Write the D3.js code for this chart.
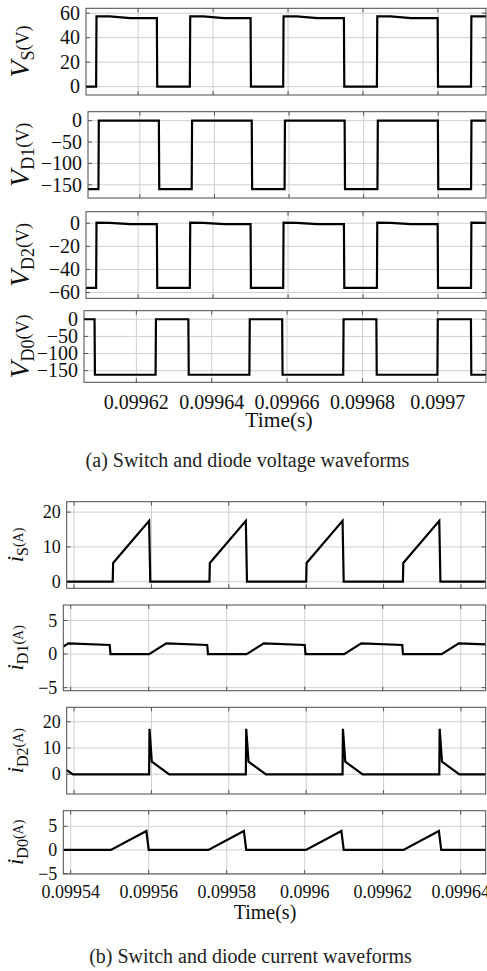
<!DOCTYPE html>
<html>
<head>
<meta charset="utf-8">
<script src="https://cdn.jsdelivr.net/npm/d3@7"></script>
<style>
body { margin: 0; background: #fff; }
svg { display: block; font-family: "Liberation Serif", "Times New Roman", serif; }
</style>
</head>
<body>
<script>
// ---- (a) switch and diode voltages, time in s ----
var timeA = [0.0996061, 0.0997128];
var ticksA = [0.09962, 0.09964, 0.09966, 0.09968, 0.0997];
var tickLabelsA = ["0.09962", "0.09964", "0.09966", "0.09968", "0.0997"];

var vS = [[0.0996061,0],[0.0996088,0],[0.0996089,57.5],[0.0996124,57.4],[0.0996179,56],[0.0996250,56],[0.0996251,0],
	[0.0996338,0],[0.0996339,57.5],[0.0996374,57.4],[0.0996429,56],[0.0996500,56],[0.0996501,0],
	[0.0996587,0],[0.0996588,57.5],[0.0996623,57.4],[0.0996678,56],[0.0996749,56],[0.0996750,0],
	[0.0996837,0],[0.0996838,57.5],[0.0996873,57.4],[0.0996928,56],[0.0996999,56],[0.0997000,0],
	[0.0997088,0],[0.0997089,57.5],[0.0997128,57.4]];
var vD1 = [[0.0996061,-160],[0.0996089,-160],[0.0996090,0],[0.0996251,0],[0.0996252,-160],
	[0.0996339,-160],[0.0996340,0],[0.0996500,0],[0.0996501,-160],
	[0.0996588,-160],[0.0996589,0],[0.0996749,0],[0.0996750,-160],
	[0.0996837,-160],[0.0996838,0],[0.0996999,0],[0.0997000,-160],
	[0.0997088,-160],[0.0997089,0],[0.0997128,0]];
var vD2 = [[0.0996061,-56],[0.0996088,-56],[0.0996089,0.5],[0.0996124,0.4],[0.0996179,-0.8],[0.0996250,-0.8],[0.0996251,-56],
	[0.0996338,-56],[0.0996339,0.5],[0.0996374,0.4],[0.0996429,-0.8],[0.0996500,-0.8],[0.0996501,-56],
	[0.0996587,-56],[0.0996588,0.5],[0.0996623,0.4],[0.0996678,-0.8],[0.0996749,-0.8],[0.0996750,-56],
	[0.0996837,-56],[0.0996838,0.5],[0.0996873,0.4],[0.0996928,-0.8],[0.0996999,-0.8],[0.0997000,-56],
	[0.0997088,-56],[0.0997089,0.5],[0.0997128,0.4]];
var vD0 = [[0.0996061,0],[0.0996089,0],[0.0996090,-162],[0.0996251,-162],[0.0996252,0],
	[0.0996338,0],[0.0996339,-162],[0.0996500,-162],[0.0996501,0],
	[0.0996587,0],[0.0996588,-162],[0.0996749,-162],[0.0996750,0],
	[0.0996837,0],[0.0996838,-162],[0.0996999,-162],[0.0997000,0],
	[0.0997088,0],[0.0997089,-162],[0.0997128,-162]];

var yDomainsA = [[-6.8, 64], [-181, 21], [-65, 10], [-184, 25]];
var yTicksA = [[0, 20, 40, 60], [-150, -100, -50, 0], [-60, -40, -20, 0], [-150, -100, -50, 0]];

// ---- (b) switch and diode currents ----
var timeB = [0.0995381, 0.0996464];
var ticksB = [0.09954, 0.09956, 0.09958, 0.0996, 0.09962, 0.09964];
var tickLabelsB = ["0.09954", "0.09956", "0.09958", "0.0996", "0.09962", "0.09964"];

var iS = [[0.0995381,0],[0.0995500,0],[0.0995501,5.4],[0.0995594,17.5],[0.0995597,0],
	[0.0995750,0],[0.0995751,5.4],[0.0995844,17.5],[0.0995847,0],
	[0.0996000,0],[0.0996001,5.4],[0.0996094,17.5],[0.0996097,0],
	[0.0996250,0],[0.0996251,5.4],[0.0996344,17.5],[0.0996347,0],
	[0.0996464,0]];
var iD1 = [[0.0995381,1.1],[0.0995394,1.6],[0.0995500,1.35],[0.0995502,0],[0.0995601,0],[0.0995645,1.6],
	[0.0995750,1.35],[0.0995752,0],[0.0995851,0],[0.0995895,1.6],
	[0.0996000,1.35],[0.0996002,0],[0.0996101,0],[0.0996145,1.6],
	[0.0996250,1.35],[0.0996252,0],[0.0996351,0],[0.0996395,1.6],
	[0.0996464,1.45]];
var iD2 = [[0.0995381,1.6],[0.0995397,0],[0.0995594,0],[0.0995595,17.3],[0.0995601,4.8],[0.0995646,0],
	[0.0995844,0],[0.0995845,17.3],[0.0995851,4.8],[0.0995896,0],
	[0.0996094,0],[0.0996095,17.3],[0.0996101,4.8],[0.0996146,0],
	[0.0996344,0],[0.0996345,17.3],[0.0996351,4.8],[0.0996396,0],
	[0.0996464,0]];
var iD0 = [[0.0995381,0],[0.0995503,0],[0.0995594,4.0],[0.0995600,0],
	[0.0995753,0],[0.0995844,4.0],[0.0995850,0],
	[0.0996003,0],[0.0996094,4.0],[0.0996100,0],
	[0.0996253,0],[0.0996344,4.0],[0.0996350,0],
	[0.0996464,0]];

var yDomainsB = [[-1.9, 23], [-5.45, 7.3], [-7.5, 25.5], [-5.1, 8.3]];
var yTicksB = [[0, 10, 20], [-5, 0, 5], [0, 10, 20], [-5, 0, 5]];

// label pieces: main letter, subscript, unit
var labelsA = [["V", "S", "(V)"], ["V", "D1", "(V)"], ["V", "D2", "(V)"], ["V", "D0", "(V)"]];
var labelsB = [["i", "S", "(A)"], ["i", "D1", "(A)"], ["i", "D2", "(A)"], ["i", "D0", "(A)"]];
var captionA = "(a) Switch and diode voltage waveforms";
var captionB = "(b) Switch and diode current waveforms";
var timeLabel = "Time(s)";

// ---- layout ----
var width = 487, height = 971;
var boxesA = [
	{left: 86, top: 8.3, bottom: 95},
	{left: 88, top: 111.7, bottom: 198},
	{left: 86, top: 211.7, bottom: 298.3},
	{left: 84, top: 310.7, bottom: 382.3}
];
var boxesB = [
	{left: 66.7, top: 501.7, bottom: 588.3},
	{left: 63.3, top: 605, bottom: 690.7},
	{left: 66.7, top: 707.3, bottom: 794},
	{left: 63.3, top: 810.7, bottom: 874}
];

var svg = d3.select("body").append("svg")
	.attr("width", width)
	.attr("height", height);

var clipId = 0;

function drawPanel(box, right, xDomain, xTicks, yDomain, yTicks, data, opt) {
	var x = d3.scaleLinear().domain(xDomain).range([box.left, right]),
	y = d3.scaleLinear().domain(yDomain).range([box.bottom, box.top]);
	var g = svg.append("g");
	var id = "clip" + (clipId++);

	g.append("defs").append("clipPath")
	.attr("id", id)
	.append("rect")
	.attr("x", box.left)
	.attr("y", box.top)
	.attr("width", right - box.left)
	.attr("height", box.bottom - box.top);

	// grid
	g.append("g")
	.selectAll("line")
	.data(xTicks)
	.enter().append("line")
	.attr("x1", function (d) { return x(d); })
	.attr("x2", function (d) { return x(d); })
	.attr("y1", box.top)
	.attr("y2", box.bottom)
	.attr("stroke", "#cfcfcf")
	.attr("stroke-width", 1);

	g.append("g")
	.selectAll("line")
	.data(yTicks)
	.enter().append("line")
	.attr("x1", box.left)
	.attr("x2", right)
	.attr("y1", function (d) { return y(d); })
	.attr("y2", function (d) { return y(d); })
	.attr("stroke", "#cfcfcf")
	.attr("stroke-width", 1);

	// inner tick marks on all four sides
	var tk = 4;
	var ticks = g.append("g").attr("stroke", "#555").attr("stroke-width", 1);
	xTicks.forEach(function (d) {
		ticks.append("line").attr("x1", x(d)).attr("x2", x(d)).attr("y1", box.bottom).attr("y2", box.bottom - tk);
		ticks.append("line").attr("x1", x(d)).attr("x2", x(d)).attr("y1", box.top).attr("y2", box.top + tk);
	});
	yTicks.forEach(function (d) {
		ticks.append("line").attr("x1", box.left).attr("x2", box.left + tk).attr("y1", y(d)).attr("y2", y(d));
		ticks.append("line").attr("x1", right).attr("x2", right - tk).attr("y1", y(d)).attr("y2", y(d));
	});

	// waveform
	var line = d3.line()
		.x(function (d) { return x(d[0]); })
		.y(function (d) { return y(d[1]); });

	g.append("path")
	.datum(data)
	.attr("clip-path", "url(#" + id + ")")
	.attr("fill", "none")
	.attr("stroke", "#000")
	.attr("stroke-width", 2.2)
	.attr("d", line);

	// box
	g.append("rect")
	.attr("x", box.left)
	.attr("y", box.top)
	.attr("width", right - box.left)
	.attr("height", box.bottom - box.top)
	.attr("fill", "none")
	.attr("stroke", "#4a4a4a")
	.attr("stroke-width", 1);

	// y tick labels
	g.append("g")
	.selectAll("text")
	.data(yTicks)
	.enter().append("text")
	.attr("x", box.left - 6)
	.attr("y", function (d) { return y(d); })
	.attr("dy", "0.34em")
	.attr("text-anchor", "end")
	.attr("font-size", opt.tickSize)
	.attr("fill", "#111")
	.text(function (d) { return d3.format("")(d); });

	// y label
	var lab = g.append("text")
		.attr("transform", "translate(" + opt.labelX + "," + ((box.top + box.bottom) / 2) + ") rotate(-90)")
		.attr("text-anchor", "middle")
		.attr("fill", "#111");
	lab.append("tspan").attr("font-style", "italic").attr("font-size", opt.mainSize).text(opt.label[0]);
	lab.append("tspan").attr("font-size", opt.subSize).attr("dy", opt.subShift).text(opt.label[1]);
	lab.append("tspan").attr("font-size", opt.unitSize).attr("dy", -opt.subShift).text(opt.label[2]);

	return x;
}

function drawSection(boxes, right, xDomain, xTicks, xLabels, yDomains, yTicks, series, labels, opt) {
	var x;
	for (var i = 0; i < boxes.length; i++) {
		x = drawPanel(boxes[i], right, xDomain, xTicks, yDomains[i], yTicks[i], series[i], {
			tickSize: opt.tickSize,
			labelX: opt.labelX,
			mainSize: opt.mainSize,
			subSize: opt.subSize,
			unitSize: opt.unitSize,
			subShift: opt.subShift,
			label: labels[i]
		});
	}
	svg.append("g")
	.selectAll("text")
	.data(xTicks)
	.enter().append("text")
	.attr("x", function (d) { return x(d); })
	.attr("y", opt.xTickY)
	.attr("text-anchor", "middle")
	.attr("font-size", opt.tickSize)
	.attr("fill", "#111")
	.text(function (d, i) { return xLabels[i]; });

	svg.append("text")
	.attr("x", opt.timeX)
	.attr("y", opt.timeY)
	.attr("text-anchor", "middle")
	.attr("font-size", opt.timeSize)
	.attr("fill", "#111")
	.text(timeLabel);

	svg.append("text")
	.attr("x", opt.capX)
	.attr("y", opt.capY)
	.attr("text-anchor", "middle")
	.attr("font-size", opt.capSize)
	.attr("fill", "#222")
	.text(opt.caption);
}

drawSection(boxesA, 486, timeA, ticksA, tickLabelsA, yDomainsA, yTicksA, [vS, vD1, vD2, vD0], labelsA, {
	tickSize: 20, labelX: 29, mainSize: 28, subSize: 18, unitSize: 18, subShift: 5,
	xTickY: 408.5, timeX: 279, timeY: 427, timeSize: 21.5,
	capX: 247.5, capY: 467, capSize: 20, caption: captionA
});

drawSection(boxesB, 485.7, timeB, ticksB, tickLabelsB, yDomainsB, yTicksB, [iS, iD1, iD2, iD0], labelsB, {
	tickSize: 18, labelX: 23, mainSize: 23, subSize: 16, unitSize: 14, subShift: 5,
	xTickY: 898, timeX: 265, timeY: 919, timeSize: 20,
	capX: 250.5, capY: 963, capSize: 20, caption: captionB
});
</script>
</body>
</html>
